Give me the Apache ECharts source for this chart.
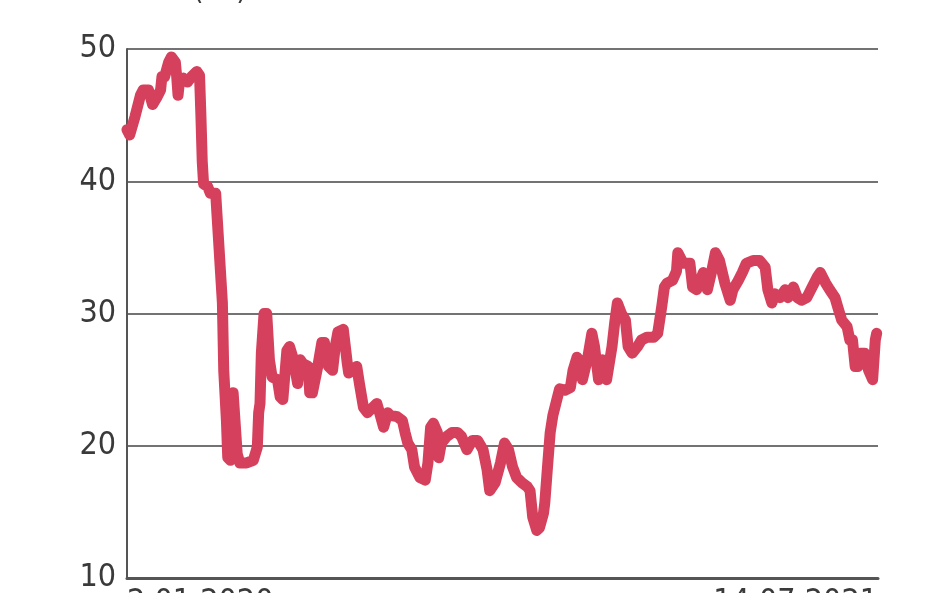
<!DOCTYPE html>
<html>
<head>
<meta charset="utf-8">
<script src="https://cdn.jsdelivr.net/npm/echarts@6/dist/echarts.min.js"></script>
<style>
html,body{margin:0;padding:0;background:#fff;}
#c{width:948px;height:593px;}
</style>
</head>
<body>
<div id="c"></div>
<script>
// Days since 2 Jan 2020
const days = [0,2,6,10,12,16,19,22,25,26,28,31,33,36,37,38,39,42,45,48,52,54,55,56,57,60,62,66,68,71,72,74,75,77,79,80,82,84,89,94,97,98,99,100,102,104,106,108,112,114,116,119,121,124,127,129,131,135,136,138,142,145,147,150,153,155,157,161,164,165,167,171,173,176,179,183,186,188,191,194,196,201,205,207,209,212,214,218,222,224,226,228,231,232,234,238,242,246,249,253,257,261,265,268,270,274,278,281,284,287,290,294,298,300,302,305,307,310,311,313,315,317,320,322,326,330,332,335,337,339,343,346,348,351,354,357,361,363,365,368,371,373,376,380,383,387,392,395,398,400,402,406,409,410,414,419,421,424,429,432,435,438,441,445,449,451,455,458,461,466,471,475,477,480,482,486,490,492,496,499,502,506,510,514,516,520,523,527,529,532,536,538,540,542,544,546,549,552,555,557,558];
// Share price (Rs)
const prices = [43.9,43.5,44.9,46.5,46.9,46.9,45.8,46.3,46.9,47.9,47.9,49.0,49.4,49.0,47.9,46.5,47.5,47.8,47.5,47.9,48.3,48.0,45.0,41.5,39.8,39.6,39.1,39.1,35.8,30.8,25.7,21.9,19.1,18.9,24.0,24.0,19.4,18.7,18.7,18.9,19.9,22.5,23.2,27.0,30.0,30.0,26.5,25.2,25.0,23.7,23.5,27.2,27.5,26.5,24.7,26.5,26.2,26.0,24.0,24.0,26.0,27.8,27.8,26.0,25.7,27.5,28.6,28.8,26.2,25.5,25.7,26.0,24.7,22.9,22.5,22.9,23.2,22.5,21.4,22.5,22.3,22.2,21.9,21.0,20.2,19.7,18.4,17.6,17.4,18.7,21.4,21.7,21.0,19.1,20.2,20.7,21.0,21.0,20.7,19.7,20.4,20.4,19.7,18.2,16.6,17.2,18.7,20.2,19.7,18.4,17.6,17.2,16.9,16.6,14.6,13.6,13.8,14.9,15.7,18.4,21.0,22.3,23.5,24.3,24.2,24.4,25.7,26.7,26.2,25.0,26.7,28.5,27.5,25.0,26.5,25.0,27.5,29.3,30.8,30.0,29.5,27.5,27.0,27.5,28.0,28.2,28.2,28.5,30.5,32.0,32.3,32.5,33.2,34.6,33.8,33.8,32.0,31.8,33.1,31.8,33.1,34.6,34.0,32.3,31.0,31.8,32.5,33.1,33.8,34.0,34.0,33.5,31.8,30.8,31.5,31.2,31.8,31.2,32.0,31.2,31.0,31.2,32.0,32.8,33.1,32.3,31.8,31.2,30.5,29.5,29.0,28.0,28.0,26.0,26.0,27.0,27.0,25.7,25.0,28.0,28.5];
const xLabels = ['2.01.2020', '14.07.2021'];
const xEnd = 559;
const yTicks = [10, 20, 30, 40, 50];
const unitLabel = '(Rs)';

const FONT = '"Liberation Sans Narrow", "DejaVu Sans Condensed", "Roboto", sans-serif';
const chart = echarts.init(document.getElementById('c'), null, {renderer: 'canvas'});
chart.setOption({
  animation: false,
  backgroundColor: '#ffffff',
  grid: {left: 127, right: 70, top: 49, bottom: 15, containLabel: false, outerBoundsMode: 'none'},
  graphic: [{
    type: 'text', left: 193, top: -24,
    style: {text: unitLabel, font: '30px ' + FONT, fill: '#3a3a3a'}
  }],
  xAxis: {
    type: 'value', min: 0, max: xEnd, interval: xEnd,
    axisLine: {show: true, lineStyle: {color: '#555', width: 3}},
    axisTick: {show: false},
    splitLine: {show: false},
    axisLabel: {
      show: true, margin: 9, fontSize: 32, fontFamily: FONT, color: '#3a3a3a',
      showMinLabel: true, showMaxLabel: true,
      alignMinLabel: 'left', alignMaxLabel: 'right',
      formatter: v => (v === 0 ? xLabels[0] : (v === xEnd ? xLabels[1] : ''))
    }
  },
  yAxis: {
    type: 'value', min: yTicks[0], max: yTicks[yTicks.length - 1], interval: 10,
    axisLine: {show: true, lineStyle: {color: '#555', width: 2}},
    axisTick: {show: false},
    splitLine: {show: true, lineStyle: {color: '#444', width: 1.5}},
    axisLabel: {margin: 11, fontSize: 32, fontFamily: FONT, color: '#3a3a3a'}
  },
  series: [{
    type: 'line',
    data: days.map((d, i) => [d, prices[i]]),
    showSymbol: false,
    symbol: 'none',
    lineStyle: {color: '#d5405c', width: 11, join: 'round', cap: 'round'},
    z: 3
  }]
});
</script>
</body>
</html>
